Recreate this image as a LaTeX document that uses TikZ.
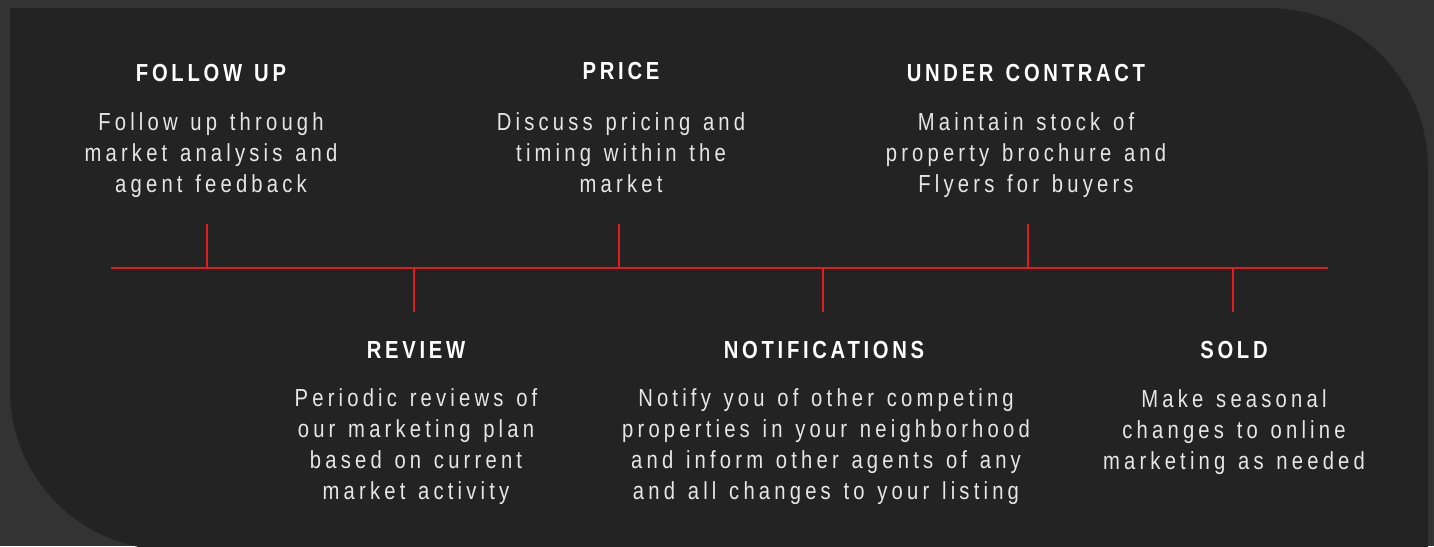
\documentclass[tikz,border=0pt]{standalone}
\usepackage{fontspec}
\setmainfont{Liberation Sans}[FakeStretch=0.82,LetterSpace=17,WordSpace=1.3]
\newfontfamily\headfont{Liberation Sans}[FakeStretch=0.82,LetterSpace=15,WordSpace=1.3,BoldFont={Liberation Sans Bold}]
\definecolor{outerbg}{HTML}{333333}
\definecolor{panelbg}{HTML}{232323}
\definecolor{timered}{HTML}{E01B22}
\definecolor{bodytext}{HTML}{E6E6E6}
\begin{document}
\begin{tikzpicture}[x=0.75pt,y=-0.75pt,
  heading/.style={anchor=base,inner sep=0pt,text=white,font=\headfont\bfseries\fontsize{18.5}{21}\selectfont},
  % a multi-line node's base anchor sits on its last line
  bodytxt/.style={anchor=base,inner sep=0pt,align=center,text=bodytext,font=\fontsize{18.5}{23.25}\selectfont},
  axis/.style={draw=timered,line width=2pt},
  tick/.style={draw=timered,line width=2pt}]
  % page and dark panel
  \fill[outerbg] (0,0) rectangle (1434,546);
  \useasboundingbox (0,0) rectangle (1434,546);
  \fill[panelbg] (10,8) -- (1268,8) arc[start angle=90,end angle=0,radius=160*0.75pt]
    -- (1428,550) -- (170,550) arc[start angle=270,end angle=180,radius=160*0.75pt] -- cycle;

  % timeline
  \coordinate (L) at (111,268);
  \coordinate (R) at (1328,268);
  \draw[axis] (L) -- (R);
  \foreach \n/\x in {t1/207,t3/619,t5/1028}{
    \coordinate (\n a) at (\x,268); \coordinate (\n b) at (\x,224);
    \draw[tick] (\n a) -- (\n b);}
  \foreach \n/\x in {t2/414,t4/823,t6/1233}{
    \coordinate (\n a) at (\x,268); \coordinate (\n b) at (\x,312);
    \draw[tick] (\n a) -- (\n b);}

  % upper labels
  \node[heading] (h1) at (211,81) {FOLLOW UP};
  \node[bodytxt] (b1) at (211,192) {Follow up through\\market analysis and\\agent feedback};
  \node[heading] (h3) at (621,79) {PRICE};
  \node[bodytxt] (b3) at (621,192) {Discuss pricing and\\timing within the\\market};
  \node[heading] (h5) at (1026,81) {UNDER CONTRACT};
  \node[bodytxt] (b5) at (1026,192) {Maintain stock of\\property brochure and\\Flyers for buyers};

  % lower labels
  \node[heading] (h2) at (416,358) {REVIEW};
  \node[bodytxt] (b2) at (416,499) {Periodic reviews of\\our marketing plan\\based on current\\market activity};
  \node[heading] (h4) at (824,358) {NOTIFICATIONS};
  \node[bodytxt] (b4) at (826,499) {Notify you of other competing\\properties in your neighborhood\\and inform other agents of any\\and all changes to your listing};
  \node[heading] (h6) at (1234,358) {SOLD};
  \node[bodytxt] (b6) at (1234,469) {Make seasonal\\changes to online\\marketing as needed};
\end{tikzpicture}
\end{document}
